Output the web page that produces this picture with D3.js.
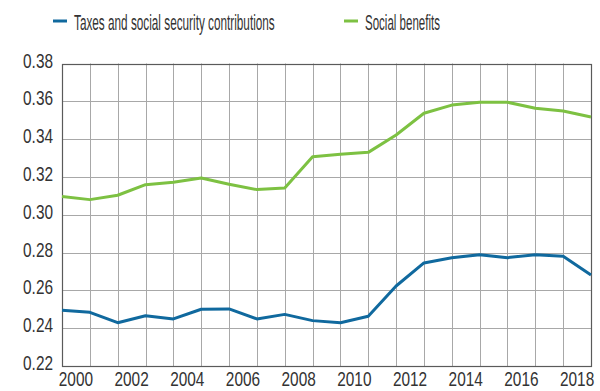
<!DOCTYPE html>
<html><head><meta charset="utf-8">
<script src="https://cdn.jsdelivr.net/npm/d3@7"></script>
<style>
html,body{margin:0;padding:0;background:#fff;}
text{font-family:"Liberation Sans",Arial,sans-serif;fill:#333;}
</style></head>
<body><svg id="c" width="600" height="391"></svg>
<script>
const years = [2000,2001,2002,2003,2004,2005,2006,2007,2008,2009,2010,2011,2012,2013,2014,2015,2016,2017,2018];
const tickYears = [2000,2002,2004,2006,2008,2010,2012,2014,2016,2018];
const yTicks = [0.22,0.24,0.26,0.28,0.30,0.32,0.34,0.36,0.38];
const seriesNames = ["Taxes and social security contributions","Social benefits"];
const taxes = [0.2495,0.2484,0.2429,0.2466,0.2449,0.2500,0.2502,0.2449,0.2473,0.2440,0.2429,0.2463,0.2623,0.2745,0.2773,0.2789,0.2773,0.2789,0.2780,0.2681];
const benefits = [0.3096,0.3080,0.3103,0.3159,0.3172,0.3194,0.3161,0.3133,0.3142,0.3307,0.3320,0.3330,0.3422,0.3537,0.3580,0.3595,0.3595,0.3563,0.3549,0.3517];
const colors = ["#10699e","#7dc142"];

const svg = d3.select("#c");
const L=62, R=591, T=63.5, B=366;
const SX = 0.77, FS = 20;
const xBand = d3.scaleBand().domain(years).range([L,R]).padding(0);
const xPt = d3.scaleLinear().domain([0, taxes.length-1]).range([L,R]);
const y = d3.scaleLinear().domain([0.22,0.38]).range([B,T]);

// grid
const g = svg.append("g");
g.selectAll(".vg").data(years.slice(1)).enter().append("line")
  .attr("x1",d=>Math.round(xBand(d))+0.5).attr("x2",d=>Math.round(xBand(d))+0.5)
  .attr("y1",T).attr("y2",B).attr("stroke","#a8a8a8").attr("stroke-width",1);
g.selectAll(".hg").data(yTicks.slice(1,-1)).enter().append("line")
  .attr("x1",L).attr("x2",R).attr("y1",d=>Math.round(y(d))+0.5).attr("y2",d=>Math.round(y(d))+0.5)
  .attr("stroke","#a8a8a8").attr("stroke-width",1);
// frame
g.append("rect").attr("x",Math.round(L)+0.5).attr("y",Math.round(T)+0.5)
  .attr("width",Math.round(R)-Math.round(L)).attr("height",Math.round(B)-Math.round(T))
  .attr("fill","none").attr("stroke","#5a5a5a").attr("stroke-width",1.2);

// y axis labels
const ya = svg.append("g").attr("transform",`translate(${L},0)`)
  .call(d3.axisLeft(y).tickValues(yTicks).tickFormat(d3.format(".2f")).tickSize(0).tickPadding(9));
ya.select(".domain").remove();
ya.attr("font-family",null).attr("font-size",null);
ya.selectAll("text").attr("font-size",FS).attr("fill","#333")
  .attr("x",-9/SX).attr("dy","0.18em").attr("transform",`scale(${SX},1)`);

// x axis labels
const xa = svg.append("g").attr("transform",`translate(0,${B})`)
  .call(d3.axisBottom(xBand).tickValues(tickYears).tickSize(0).tickPadding(0));
xa.select(".domain").remove();
xa.attr("font-family",null).attr("font-size",null);
xa.selectAll("text").attr("font-size",FS).attr("fill","#333")
  .attr("y",20.5).attr("dy",0).attr("transform",`scale(${SX},1)`);

// lines
const line = d3.line().x((d,i)=>xPt(i)).y(d=>y(d));
[taxes,benefits].forEach((s,k)=>{
  svg.append("path").datum(s).attr("d",line).attr("fill","none")
    .attr("stroke",colors[k]).attr("stroke-width",3).attr("stroke-linejoin","round");
});

// legend
const legX = [53,344];
const legW = [201,75];
seriesNames.forEach((n,k)=>{
  const lg = svg.append("g");
  lg.append("line").attr("x1",legX[k]).attr("x2",legX[k]+14).attr("y1",21).attr("y2",21)
    .attr("stroke",colors[k]).attr("stroke-width",3);
  const t = lg.append("text").attr("x",0).attr("y",0).attr("font-size",22).text(n);
  const w = t.node().getComputedTextLength();
  t.attr("transform",`translate(${legX[k]+21},30) scale(${legW[k]/w},1)`);
});
</script></body></html>
